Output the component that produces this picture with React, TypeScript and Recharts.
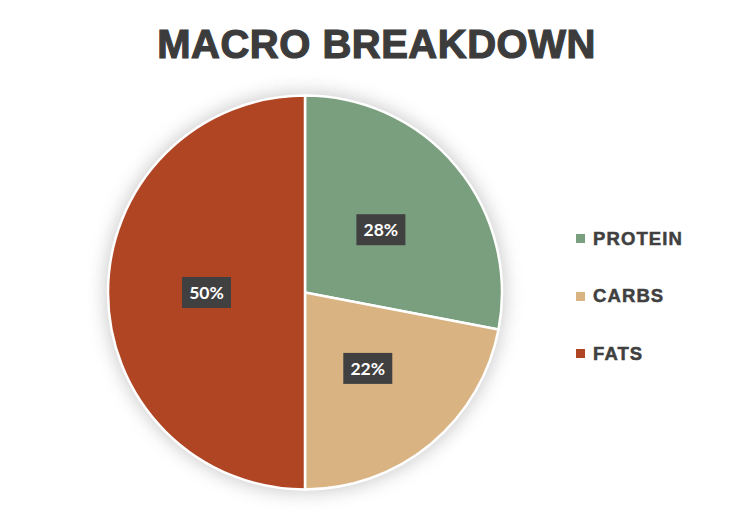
import { PieChart, Pie, Cell } from 'recharts'

const macros = ['PROTEIN', 'CARBS', 'FATS']
const shares = [28, 22, 50]
const colors = ['#7A9F7F', '#D9B382', '#B04524']

const data = macros.map((name, i) => ({ name, value: shares[i] }))

const RAD = Math.PI / 180

function renderLabel(props: any) {
  const { cx, cy, midAngle, outerRadius, value } = props
  const r = outerRadius * 0.5
  const x = cx + r * Math.cos(-midAngle * RAD)
  const y = cy + r * Math.sin(-midAngle * RAD)
  return (
    <g>
      <rect x={x - 24.5} y={y - 15.5} width={49} height={31} fill="#404040" />
      <text
        x={x}
        y={y}
        fill="#fff"
        textAnchor="middle"
        dominantBaseline="central"
        style={{ fontFamily: 'Lato, sans-serif', fontWeight: 700, fontSize: 17.5 }}
      >
        {`${value}%`}
      </text>
    </g>
  )
}

// legend built from the same arrays, laid over the chart
function MacroLegend() {
  return (
    <div style={{ position: 'absolute', left: 576, top: 210 }}>
      {macros.map((name, i) => (
        <div key={name} style={{ display: 'flex', alignItems: 'center', height: 57.5 }}>
          <span style={{ width: 9, height: 9, background: colors[i], marginRight: 8 }} />
          <span
            style={{
              fontFamily: '"Liberation Sans", Arial, sans-serif',
              fontWeight: 700,
              fontSize: 18.5,
              letterSpacing: 1.1,
              color: '#404040',
              WebkitTextStroke: '0.5px #404040',
            }}
          >
            {name}
          </span>
        </div>
      ))}
    </div>
  )
}

export default function App() {
  return (
    <div style={{ position: 'absolute', left: 0, top: 0, width: 753, height: 515, background: '#fff' }}>
      <div
        style={{
          position: 'absolute',
          left: 0,
          top: 24,
          width: 753,
          textAlign: 'center',
          fontFamily: '"Liberation Sans", Arial, sans-serif',
          fontWeight: 700,
          fontSize: 40,
          lineHeight: 1,
          color: '#3c3c3c',
          WebkitTextStroke: '1.2px #3c3c3c',
          letterSpacing: 0.5,
        }}
      >
        MACRO BREAKDOWN
      </div>
      <PieChart width={753} height={515} margin={{ top: 0, right: 0, bottom: 0, left: 0 }}>
        <defs>
          <filter id="pieGlow" x="-30%" y="-30%" width="160%" height="160%">
            <feGaussianBlur stdDeviation="9" />
          </filter>
        </defs>
        <Pie
          data={data}
          dataKey="value"
          cx={305}
          cy={292.5}
          outerRadius={200}
          startAngle={90}
          endAngle={-270}
          fill="#b5b5b5"
          stroke="none"
          filter="url(#pieGlow)"
          opacity={0.7}
          legendType="none"
          isAnimationActive={false}
        />
        <Pie
          data={data}
          dataKey="value"
          nameKey="name"
          cx={305}
          cy={292.5}
          outerRadius={197}
          startAngle={90}
          endAngle={-270}
          stroke="#fff"
          strokeWidth={2.5}
          labelLine={false}
          label={renderLabel}
          isAnimationActive={false}
        >
          {data.map((d, i) => (
            <Cell key={d.name} fill={colors[i]} />
          ))}
        </Pie>
      </PieChart>
      <MacroLegend />
    </div>
  )
}
